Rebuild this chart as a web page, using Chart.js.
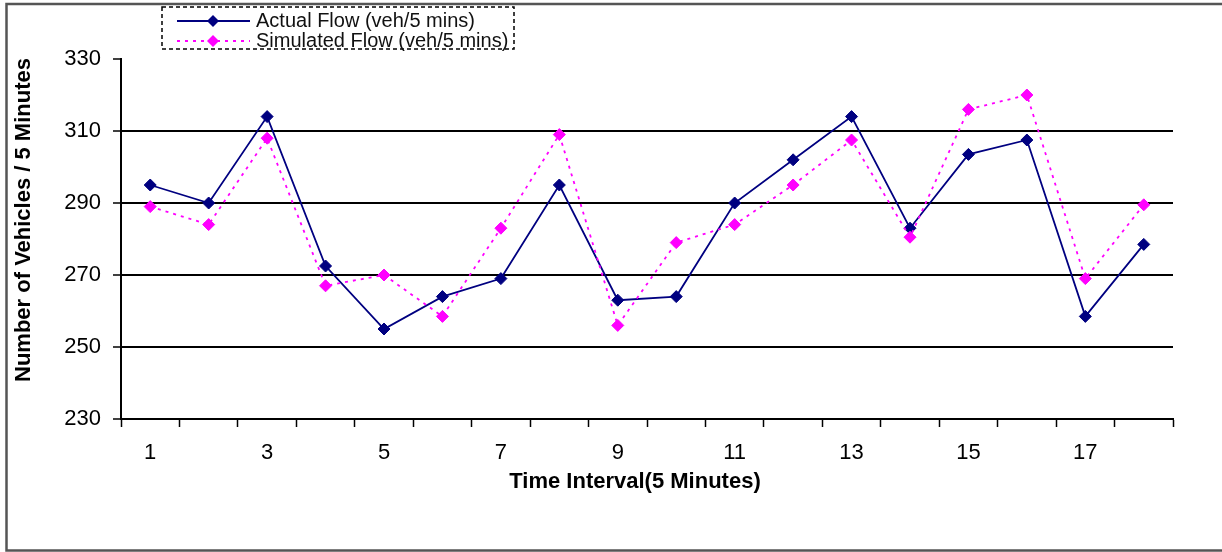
<!DOCTYPE html>
<html>
<head>
<meta charset="utf-8">
<script src="https://cdn.jsdelivr.net/npm/chart.js@4/dist/chart.umd.min.js"></script>
<style>
  html, body { margin: 0; padding: 0; background: #fff; }
  #wrap { width: 1222px; height: 552px; }
</style>
</head>
<body>
<div id="wrap"><canvas id="c" width="1222" height="552"></canvas></div>
<script>
const categories = ['1','2','3','4','5','6','7','8','9','10','11','12','13','14','15','16','17','18'];
const actualFlow = [295, 290, 314, 272.5, 255, 264, 269, 295, 263, 264, 290, 302, 314, 283, 303.5, 307.5, 258.5, 278.5];
const simulatedFlow = [289, 284, 308, 267, 270, 258.5, 283, 309, 256, 279, 284, 295, 307.5, 280.5, 316, 320, 269, 289.5];
const yTicks = [230, 250, 270, 290, 310, 330];
const actualLabel = 'Actual Flow (veh/5 mins)';
const simulatedLabel = 'Simulated Flow (veh/5 mins)';
const yTitle = 'Number of Vehicles / 5 Minutes';
const xTitle = 'Time Interval(5 Minutes)';

const NAVY = '#000080';
const MAGENTA = '#ff00ff';
const FONT = "'Liberation Sans', Arial, sans-serif";

function diamond(ctx, x, y, r, color) {
  ctx.save();
  ctx.fillStyle = color;
  ctx.beginPath();
  ctx.moveTo(x - r, y); ctx.lineTo(x, y - r); ctx.lineTo(x + r, y); ctx.lineTo(x, y + r);
  ctx.closePath();
  ctx.fill();
  ctx.restore();
}

const decor = {
  id: 'decor',
  beforeDraw(chart) {
    const ctx = chart.ctx;
    ctx.save();
    ctx.fillStyle = '#fff';
    ctx.fillRect(0, 0, chart.width, chart.height);
    ctx.restore();
  },
  afterDraw(chart) {
    const ctx = chart.ctx;
    ctx.save();
    // outer frame (top, left, bottom; no right edge)
    ctx.strokeStyle = '#555';
    ctx.lineWidth = 2.5;
    ctx.beginPath();
    ctx.moveTo(1222, 4); ctx.lineTo(6.5, 4); ctx.lineTo(6.5, 550.5); ctx.lineTo(1222, 550.5);
    ctx.stroke();

    // axis titles
    ctx.fillStyle = '#000';
    ctx.font = 'bold 22px ' + FONT;
    ctx.textAlign = 'center';
    ctx.textBaseline = 'middle';
    ctx.fillText(xTitle, 635, 482);
    ctx.save();
    ctx.translate(24, 220);
    ctx.rotate(-Math.PI / 2);
    ctx.fillText(yTitle, 0, 0);
    ctx.restore();

    // legend
    ctx.strokeStyle = '#000';
    ctx.lineWidth = 1.5;
    ctx.setLineDash([4, 3]);
    ctx.strokeRect(162, 7, 352, 42);
    ctx.setLineDash([]);
    const ds = chart.data.datasets;
    const rows = [21, 41];
    ds.forEach((d, i) => {
      const y = rows[i];
      ctx.strokeStyle = d.borderColor;
      ctx.lineWidth = d.borderWidth;
      ctx.setLineDash(d.borderDash || []);
      ctx.beginPath(); ctx.moveTo(177, y); ctx.lineTo(250, y); ctx.stroke();
      ctx.setLineDash([]);
      diamond(ctx, 213, y, 6, d.pointBackgroundColor);
      ctx.fillStyle = '#111';
      ctx.font = '20px ' + FONT;
      ctx.textAlign = 'left';
      ctx.textBaseline = 'alphabetic';
      ctx.fillText(d.label, 256, y + 6);
    });
    ctx.restore();
  }
};

new Chart(document.getElementById('c'), {
  type: 'line',
  data: {
    labels: categories,
    datasets: [
      {
        label: actualLabel,
        data: actualFlow,
        borderColor: NAVY,
        backgroundColor: NAVY,
        pointBackgroundColor: NAVY,
        pointBorderColor: NAVY,
        borderWidth: 1.8,
        pointStyle: 'rectRot',
        pointRadius: 6,
        pointBorderWidth: 1,
        tension: 0,
        order: 1
      },
      {
        label: simulatedLabel,
        data: simulatedFlow,
        borderColor: MAGENTA,
        backgroundColor: MAGENTA,
        pointBackgroundColor: MAGENTA,
        pointBorderColor: MAGENTA,
        borderWidth: 1.8,
        borderDash: [3, 5],
        pointStyle: 'rectRot',
        pointRadius: 6,
        pointBorderWidth: 1,
        tension: 0,
        order: 0
      }
    ]
  },
  options: {
    responsive: false,
    animation: false,
    devicePixelRatio: 1,
    layout: { padding: { left: 7, right: 49, top: 59, bottom: 61 } },
    plugins: { legend: { display: false }, tooltip: { enabled: false } },
    scales: {
      x: {
        type: 'category',
        offset: true,
        grid: {
          offset: true,
          drawOnChartArea: false,
          drawTicks: true,
          tickLength: 8,
          tickColor: '#000',
          tickWidth: 1.5
        },
        border: { color: '#000', width: 2 },
        ticks: {
          autoSkip: false,
          maxRotation: 0,
          padding: 13,
          color: '#000',
          font: { family: FONT, size: 22 },
          callback: function (val, index) { return index % 2 === 0 ? this.getLabelForValue(val) : ''; }
        },
        afterFit(scale) { scale.height = 72; }
      },
      y: {
        min: yTicks[0],
        max: yTicks[yTicks.length - 1],
        afterBuildTicks(scale) { scale.ticks = yTicks.map(v => ({ value: v })); },
        grid: {
          color: ctx => (ctx.tick && (ctx.tick.value === 330 || ctx.tick.value === 230)) ? 'rgba(0,0,0,0)' : '#000',
          lineWidth: 2,
          drawTicks: true,
          tickLength: 8,
          tickColor: '#000',
          tickWidth: 1.5
        },
        border: { color: '#000', width: 2 },
        ticks: {
          padding: 12,
          color: '#000',
          font: { family: FONT, size: 22 }
        },
        afterFit(scale) { scale.width = 114; }
      }
    }
  },
  plugins: [decor]
});
</script>
</body>
</html>
